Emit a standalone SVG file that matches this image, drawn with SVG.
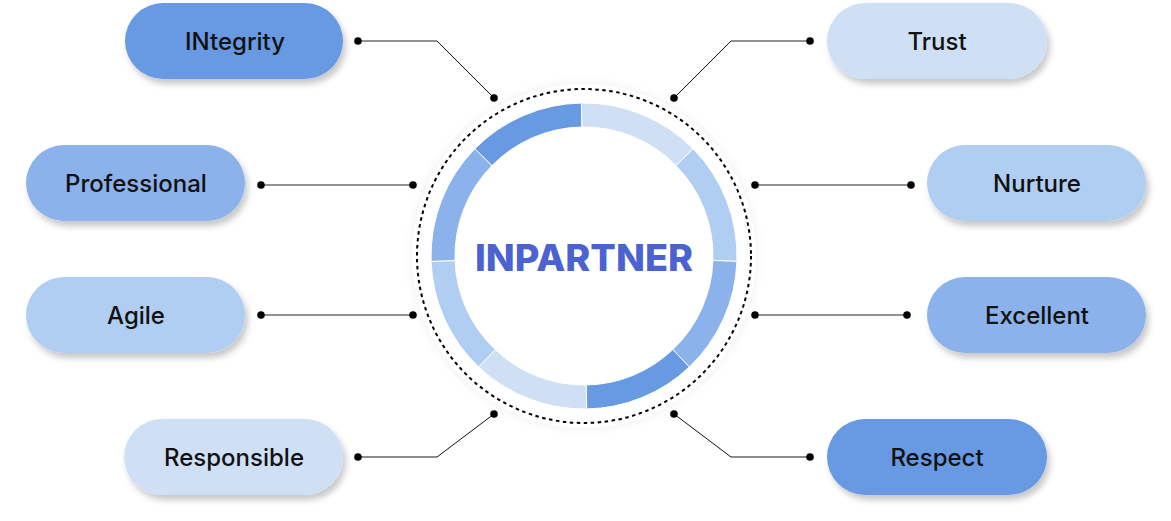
<svg xmlns="http://www.w3.org/2000/svg" width="1171" height="521" viewBox="0 0 1171 521">
<defs>
<filter id="sh" x="-20%" y="-30%" width="140%" height="170%">
<feDropShadow dx="3" dy="5" stdDeviation="3" flood-color="#000" flood-opacity="0.22"/>
</filter>
<filter id="glow" x="-20%" y="-20%" width="140%" height="140%">
<feDropShadow dx="0" dy="0" stdDeviation="5" flood-color="#000" flood-opacity="0.07"/>
</filter>
<style>
.pill{filter:url(#sh);}
.lbl{font-family:Inter,"Liberation Sans",sans-serif;font-size:24px;font-weight:500;fill:#111;text-anchor:middle;}
.c1{fill:#CFE0F5;}
.c2{fill:#B0CDF2;}
.c3{fill:#8BB2EA;}
.c4{fill:#6899E3;}
.seg{stroke:#fff;stroke-width:1;}
.h{stroke:#6e6e6e;stroke-width:1.6;fill:none;}
.hb{stroke:#1a1a1a;stroke-width:1.2;fill:none;}
.d{stroke:#111;stroke-width:1;fill:none;}
.dot{fill:#000;}
</style>
</defs>
<rect width="1171" height="521" fill="#fff"/>

<g id="center">
<circle cx="584" cy="256" r="172" fill="#fff" filter="url(#glow)"/>
<circle cx="584" cy="256" r="167" fill="none" stroke="#000" stroke-width="2" stroke-dasharray="3.5 3.5"/>
<path class="seg c1" d="M581.33,103.02 A153,153 0 0 1 693.13,148.76 L676.01,165.58 A129,129 0 0 0 581.75,127.02 Z"/>
<path class="seg c2" d="M693.13,148.76 A153,153 0 0 1 736.91,261.34 L712.92,260.50 A129,129 0 0 0 676.01,165.58 Z"/>
<path class="seg c3" d="M736.91,261.34 A153,153 0 0 1 689.32,366.98 L672.80,349.57 A129,129 0 0 0 712.92,260.50 Z"/>
<path class="seg c4" d="M689.32,366.98 A153,153 0 0 1 586.67,408.98 L586.25,384.98 A129,129 0 0 0 672.80,349.57 Z"/>
<path class="seg c1" d="M586.67,408.98 A153,153 0 0 1 478.68,366.98 L495.20,349.57 A129,129 0 0 0 586.25,384.98 Z"/>
<path class="seg c2" d="M478.68,366.98 A153,153 0 0 1 431.09,261.34 L455.08,260.50 A129,129 0 0 0 495.20,349.57 Z"/>
<path class="seg c3" d="M431.09,261.34 A153,153 0 0 1 474.87,148.76 L491.99,165.58 A129,129 0 0 0 455.08,260.50 Z"/>
<path class="seg c4" d="M474.87,148.76 A153,153 0 0 1 581.33,103.02 L581.75,127.02 A129,129 0 0 0 491.99,165.58 Z"/>
<text x="584" y="270.5" text-anchor="middle" font-family="Inter,'Liberation Sans',sans-serif" font-weight="800" font-size="37" fill="#4B62D1" textLength="218" lengthAdjust="spacingAndGlyphs">INPARTNER</text>
</g>

<g id="connectors">
<polyline class="h" points="358,41 437,41"/>
<polyline class="d" points="437,41 494,98"/>
<circle class="dot" cx="358" cy="41" r="3.8"/>
<circle class="dot" cx="494" cy="98" r="3.8"/>

<polyline class="h" points="810,41 731,41"/>
<polyline class="d" points="731,41 674,98"/>
<circle class="dot" cx="810" cy="41" r="3.8"/>
<circle class="dot" cx="674" cy="98" r="3.8"/>

<line class="h" x1="261" y1="185" x2="413" y2="185"/>
<circle class="dot" cx="261" cy="185" r="3.8"/>
<circle class="dot" cx="413" cy="185" r="3.8"/>

<line class="h" x1="261" y1="315" x2="413" y2="315"/>
<circle class="dot" cx="261" cy="315" r="3.8"/>
<circle class="dot" cx="413" cy="315" r="3.8"/>

<line class="h" x1="755" y1="185" x2="911" y2="185"/>
<circle class="dot" cx="755" cy="185" r="3.8"/>
<circle class="dot" cx="911" cy="185" r="3.8"/>

<line class="h" x1="755" y1="315" x2="907" y2="315"/>
<circle class="dot" cx="755" cy="315" r="3.8"/>
<circle class="dot" cx="907" cy="315" r="3.8"/>

<polyline class="hb" points="358,457 437,457"/>
<polyline class="d" points="437,457 494,414"/>
<circle class="dot" cx="358" cy="457" r="3.8"/>
<circle class="dot" cx="494" cy="414" r="3.8"/>

<polyline class="hb" points="810,457 731,457"/>
<polyline class="d" points="731,457 674,414"/>
<circle class="dot" cx="810" cy="457" r="3.8"/>
<circle class="dot" cx="674" cy="414" r="3.8"/>
</g>

<g id="integrity">
<rect class="pill c4" x="125" y="3" width="218" height="76" rx="38"/>
<text class="lbl" x="235" y="50">INtegrity</text>
</g>
<g id="trust">
<rect class="pill c1" x="827" y="3" width="220" height="76" rx="38"/>
<text class="lbl" x="937" y="50">Trust</text>
</g>
<g id="professional">
<rect class="pill c3" x="26" y="145" width="219" height="76" rx="38"/>
<text class="lbl" x="136" y="192">Professional</text>
</g>
<g id="agile">
<rect class="pill c2" x="26" y="277" width="219" height="76" rx="38"/>
<text class="lbl" x="136" y="324">Agile</text>
</g>
<g id="nurture">
<rect class="pill c2" x="927" y="145" width="219" height="76" rx="38"/>
<text class="lbl" x="1037" y="192">Nurture</text>
</g>
<g id="excellent">
<rect class="pill c3" x="927" y="277" width="219" height="76" rx="38"/>
<text class="lbl" x="1037" y="324">Excellent</text>
</g>
<g id="responsible">
<rect class="pill c1" x="124" y="419" width="219" height="76" rx="38"/>
<text class="lbl" x="234" y="466">Responsible</text>
</g>
<g id="respect">
<rect class="pill c4" x="827" y="419" width="220" height="76" rx="38"/>
<text class="lbl" x="937" y="466">Respect</text>
</g>
</svg>
